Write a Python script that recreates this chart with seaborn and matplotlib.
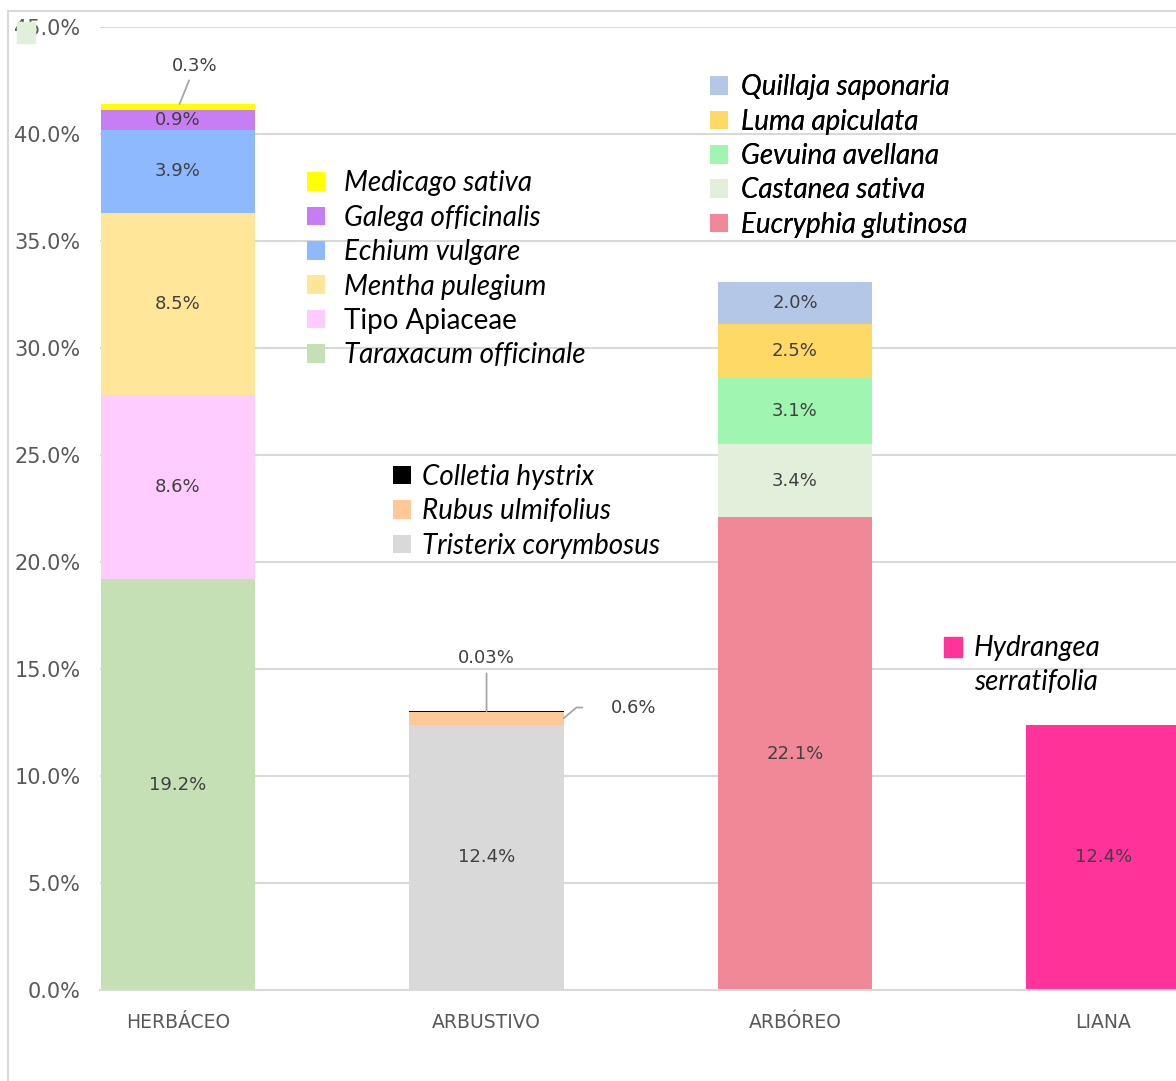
import matplotlib
matplotlib.use("Agg")
import pandas as pd
import matplotlib.pyplot as plt
import seaborn as sns
from matplotlib.patches import Patch, Rectangle

W, H = 1176, 1081

categories = ["HERBÁCEO", "ARBUSTIVO", "ARBÓREO", "LIANA"]

# species stacked bottom -> top inside each growth form
herb_species = ["Taraxacum officinale", "Tipo Apiaceae", "Mentha pulegium",
                "Echium vulgare", "Galega officinalis", "Medicago sativa"]
herb_values = [19.2, 8.6, 8.5, 3.9, 0.9, 0.3]
herb_colors = ["#C5E0B4", "#FFCCFF", "#FFE699", "#8FB9FF", "#C77DF3", "#FFFF00"]

shrub_species = ["Tristerix corymbosus", "Rubus ulmifolius", "Colletia hystrix"]
shrub_values = [12.4, 0.6, 0.03]
shrub_colors = ["#D9D9D9", "#FFC896", "#000000"]

tree_species = ["Eucryphia glutinosa", "Castanea sativa", "Gevuina avellana",
                "Luma apiculata", "Quillaja saponaria"]
tree_values = [22.1, 3.4, 3.1, 2.5, 2.0]
tree_colors = ["#F08898", "#E2EFDA", "#A0F5B0", "#FFD966", "#B4C7E7"]

liana_species = ["Hydrangea serratifolia"]
liana_values = [12.4]
liana_colors = ["#FF3399"]

groups = [
    (categories[0], herb_species, herb_values, herb_colors),
    (categories[1], shrub_species, shrub_values, shrub_colors),
    (categories[2], tree_species, tree_values, tree_colors),
    (categories[3], liana_species, liana_values, liana_colors),
]

rows = []
for cat, names, vals, cols in groups:
    bottom = 0.0
    for n, v, c in zip(names, vals, cols):
        rows.append(dict(category=cat, species=n, value=v, bottom=bottom,
                         top=bottom + v, color=c))
        bottom += v
df = pd.DataFrame(rows)

LEG_SIZE = 20
LEG_PX = LEG_SIZE * 100 / 72


def fmt(v):
    return f"{v:.2f}%" if v < 0.1 else f"{v:.1f}%"


def main():
    sns.set_theme(style="white")
    plt.rcParams["font.family"] = ["DejaVu Sans"]

    fig = plt.figure(figsize=(W / 100, H / 100), dpi=100)
    ax = fig.add_axes([100 / W, 91 / H, (W - 100) / W, (990 - 27) / H])

    # tallest cumulative tops drawn first so lower segments overlay them
    order = df.sort_values("top", ascending=False)["species"].tolist()
    palette = dict(zip(df["species"], df["color"]))
    sns.barplot(data=df, x="category", y="top", hue="species", hue_order=order,
                order=categories, palette=palette, dodge=False, width=0.5,
                errorbar=None, legend=False, saturation=1, linewidth=0,
                zorder=2, ax=ax)

    ax.set_xlim(-0.253, 3.235)
    ax.set_ylim(0, 45)
    ax.set_yticks(range(0, 50, 5))
    ax.set_yticklabels([f"{t:.1f}%" for t in range(0, 50, 5)])
    ax.set_xlabel("")
    ax.set_ylabel("")
    ax.yaxis.grid(True, color="#D9D9D9", linewidth=1.5, zorder=0)
    ax.set_axisbelow(True)
    for s in ["left", "right", "top"]:
        ax.spines[s].set_visible(False)
    ax.spines["bottom"].set_color("#D9D9D9")
    ax.spines["bottom"].set_linewidth(1.5)
    ax.tick_params(axis="y", length=0, pad=14, labelsize=15, labelcolor="#595959")
    ax.tick_params(axis="x", length=0, pad=16.5, labelsize=13.5, labelcolor="#595959")

    # data labels
    lab_kw = dict(ha="center", va="center", fontsize=13, color="#404040")
    line_kw = dict(arrowstyle="-", color="#A6A6A6", lw=1.3, shrinkB=0)
    for _, r in df.iterrows():
        xi = categories.index(r["category"])
        if r["species"] == "Medicago sativa":
            ax.annotate(fmt(r["value"]), xy=(xi + 0.005, r["top"]),
                        xytext=(xi + 0.055, 43.2), arrowprops=line_kw, **lab_kw)
        elif r["species"] == "Colletia hystrix":
            ax.annotate(fmt(r["value"]), xy=(xi, r["top"]),
                        xytext=(xi, 15.5), arrowprops=line_kw, **lab_kw)
        elif r["species"] == "Rubus ulmifolius":
            ax.annotate(fmt(r["value"]), xy=(xi + 0.25, r["bottom"] + r["value"] / 2),
                        xytext=(xi + 0.476, 13.2),
                        arrowprops=dict(line_kw, shrinkA=18,
                                        connectionstyle="angle,angleA=0,angleB=40,rad=0"),
                        **lab_kw)
        else:
            ax.text(xi, r["bottom"] + r["value"] / 2, fmt(r["value"]), **lab_kw)

    # legends, one block per growth form
    def add_legend(names, colors, x_px, y_px, pad_px):
        handles = [Patch(facecolor=c, edgecolor="none") for c in colors]
        leg = ax.legend(handles, names, loc="upper left",
                        bbox_to_anchor=(x_px / W, 1 - y_px / H),
                        bbox_transform=fig.transFigure, frameon=False,
                        prop=dict(family="Lato", size=LEG_SIZE, style="italic"),
                        handlelength=18 / LEG_PX, handleheight=18 / LEG_PX,
                        handletextpad=pad_px / LEG_PX,
                        labelspacing=0.30, borderpad=0, borderaxespad=0)
        for t in leg.get_texts():
            t.set_color("black")
            if t.get_text() == "Tipo Apiaceae":
                t.set_fontstyle("normal")
        ax.add_artist(leg)

    add_legend(herb_species[::-1], herb_colors[::-1], 307, 170.5, 19)
    add_legend(shrub_species[::-1], shrub_colors[::-1], 393, 464, 11)
    add_legend(tree_species[::-1], tree_colors[::-1], 710, 74.5, 13)

    fig.patches.append(Rectangle((944 / W, 1 - 657 / H), 18 / W, 20 / H,
                                 transform=fig.transFigure, color=liana_colors[0]))
    name1, name2 = liana_species[0].split(" ")
    for txt, y in [(name1, 648), (name2, 682)]:
        fig.text(974 / W, 1 - y / H, txt, va="center", ha="left", family="Lato",
                 size=LEG_SIZE, style="italic", color="black")

    # outer chart frame and stray key square
    fig.patches.append(Rectangle((8 / W, -0.1), 1.2, 1.1 - 11 / H, fill=False,
                                 edgecolor="#D9D9D9", lw=1.5,
                                 transform=fig.transFigure))
    fig.patches.append(Rectangle((17 / W, 1 - 43 / H), 18 / W, 21 / H,
                                 transform=fig.transFigure, color="#E2EFDA"))

    fig.savefig("out.png", dpi=100)


if __name__ == "__main__":
    main()
